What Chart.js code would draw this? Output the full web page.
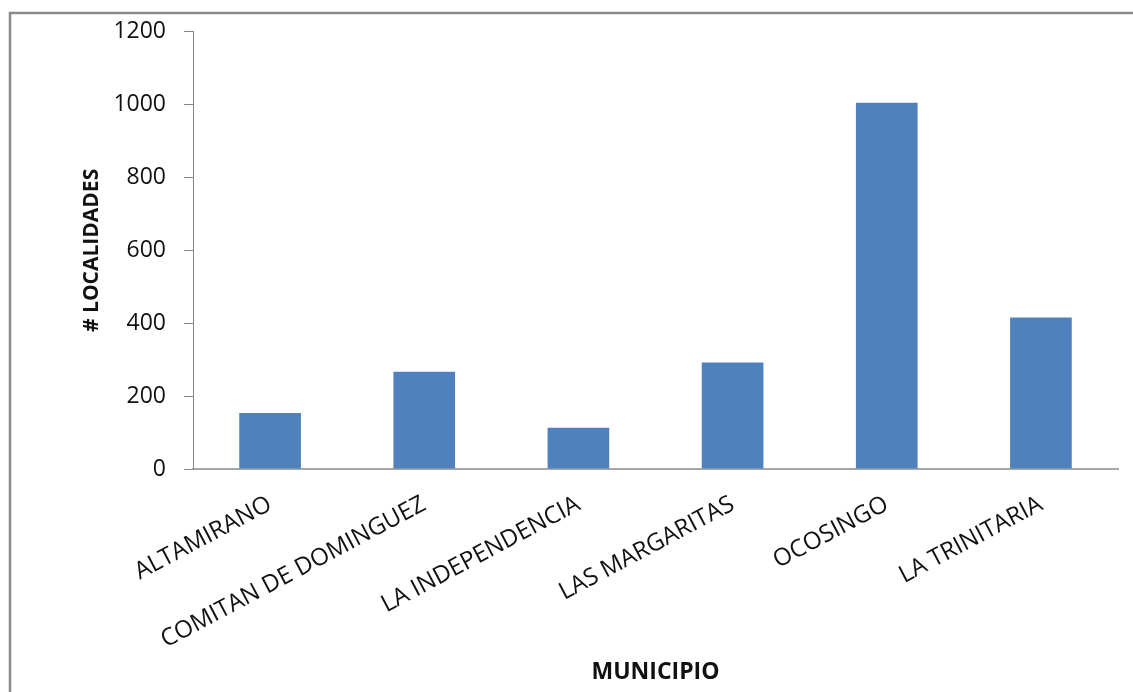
<!DOCTYPE html>
<html>
<head>
<meta charset="utf-8">
<script src="https://cdn.jsdelivr.net/npm/chart.js@4.4.1/dist/chart.umd.min.js"></script>
<style>
  html, body { margin: 0; padding: 0; background: #fff; }
  #wrap { width: 1133px; height: 692px; position: relative; }
</style>
</head>
<body>
<div id="wrap"><canvas id="chart" width="1133" height="692"></canvas></div>
<script>
// Localidades por municipio
const municipios = ['ALTAMIRANO', 'COMITAN DE DOMINGUEZ', 'LA INDEPENDENCIA', 'LAS MARGARITAS', 'OCOSINGO', 'LA TRINITARIA'];
const localidades = [154, 267, 113, 292, 1005, 416];
const yMin = 0;
const yMax = 1200;
const yStep = 200;

const BAR = '#4F81BD';
const AXIS = '#868686';
const TEXT = '#111111';
const FONT = "'Open Sans', 'DejaVu Sans', sans-serif";

// Gray frame along the top and left edges of the chart
const framePlugin = {
  id: 'frame',
  afterDraw(chart) {
    const ctx = chart.ctx;
    ctx.save();
    ctx.strokeStyle = '#8a8a8a';
    ctx.lineWidth = 2.5;
    ctx.beginPath();
    ctx.moveTo(10, chart.height);
    ctx.lineTo(10, 13);
    ctx.lineTo(chart.width, 13);
    ctx.stroke();
    ctx.restore();
  }
};

new Chart(document.getElementById('chart'), {
  type: 'bar',
  data: {
    labels: municipios,
    datasets: [{
      data: localidades,
      backgroundColor: BAR,
      borderWidth: 0,
      barPercentage: 0.4,
      categoryPercentage: 1.0
    }]
  },
  options: {
    responsive: false,
    animation: false,
    devicePixelRatio: 1,
    layout: { padding: { top: 29.5, right: 15, left: 70, bottom: 0 } },
    plugins: {
      legend: { display: false },
      tooltip: { enabled: false }
    },
    scales: {
      x: {
        grid: { display: false, drawTicks: false },
        border: { display: true, color: '#a6a6a6', width: 2 },
        ticks: {
          color: TEXT,
          font: { family: FONT, size: 24 },
          autoSkip: false,
          minRotation: 28,
          maxRotation: 28,
          padding: 21
        },
        title: {
          display: true,
          text: 'MUNICIPIO',
          color: TEXT,
          font: { family: FONT, size: 23, weight: 'bold' },
          padding: { top: 0, bottom: 6 }
        },
        afterFit(scale) { scale.height = 223; }
      },
      y: {
        min: yMin,
        max: yMax,
        grid: { display: true, drawOnChartArea: false, drawTicks: true, tickLength: 9, color: AXIS, lineWidth: 1 },
        border: { display: true, color: AXIS, width: 1 },
        ticks: {
          stepSize: yStep,
          color: TEXT,
          font: { family: FONT, size: 23 },
          padding: 18,
          callback: (v) => String(v)
        },
        title: {
          display: true,
          text: '# LOCALIDADES',
          color: TEXT,
          font: { family: FONT, size: 21, weight: 'bold' },
          padding: { top: 9, bottom: 0 }
        },
        afterFit(scale) { scale.width = 123; }
      }
    }
  },
  plugins: [framePlugin]
});
</script>
</body>
</html>
